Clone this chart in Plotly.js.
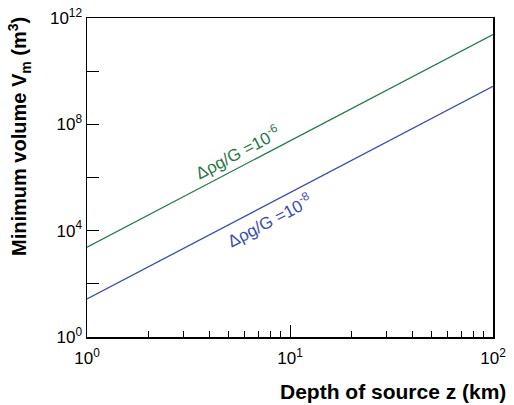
<!DOCTYPE html>
<html>
<head>
<meta charset="utf-8">
<script src="https://cdn.plot.ly/plotly-3.0.1.min.js"></script>
<style>html,body{margin:0;padding:0;background:#fff;}#chart{width:514px;height:405px;}</style>
</head>
<body>
<div id="chart"></div>
<script>
// Data
var depth = [1, 100];                  // km
var volumeHigh = [2400, 2.4e11];       // Δρg/G = 1e-6
var volumeLow = [27, 2.7e9];           // Δρg/G = 1e-8
var yTickVals = [1, 1e4, 1e8, 1e12];
var yTickText = ['10<sup>0</sup>', '10<sup>4</sup>', '10<sup>8</sup>', '10<sup>12</sup>'];
var yMinorVals = [1e2, 1e6, 1e10];
var xTickVals = [1, 10, 100];
var xTickText = ['10<sup>0</sup>', '10<sup>1</sup>', '10<sup>2</sup>'];
var xMinorVals = [2,3,4,5,6,7,8,9,20,30,40,50,60,70,80,90];

var green = '#1f7a45';
var blue = '#3a4cb0';
var font = 'Liberation Sans, Arial, sans-serif';

var traces = [
  {x: depth, y: volumeHigh, mode: 'lines', line: {color: green, width: 1.3}, hoverinfo: 'skip'},
  {x: depth, y: volumeLow, mode: 'lines', line: {color: blue, width: 1.3}, hoverinfo: 'skip'}
];

var layout = {
  width: 514, height: 405,
  margin: {l: 87, r: 21, t: 18, b: 68},
  paper_bgcolor: '#fff', plot_bgcolor: '#fff',
  showlegend: false,
  font: {family: font, size: 17, color: '#000'},
  xaxis: {
    type: 'log', range: [0, 2],
    tickmode: 'array', tickvals: xTickVals, ticktext: xTickText,
    ticks: 'inside', ticklen: 12, tickwidth: 1, tickcolor: '#000',
    showline: true, linecolor: '#000', linewidth: 1.5, mirror: true,
    showgrid: false, zeroline: false, ticklabelstandoff: 5,
    tickfont: {family: font, size: 17, color: '#000'},
    minor: {tickmode: 'array', tickvals: xMinorVals, ticks: 'inside', ticklen: 6, tickwidth: 1, tickcolor: '#000', showgrid: false}
  },
  yaxis: {
    type: 'log', range: [0, 12],
    tickmode: 'array', tickvals: yTickVals, ticktext: yTickText,
    ticks: 'inside', ticklen: 12, tickwidth: 1, tickcolor: '#000',
    showline: true, linecolor: '#000', linewidth: 1.5, mirror: true,
    showgrid: false, zeroline: false,
    tickfont: {family: font, size: 17, color: '#000'},
    minor: {tickmode: 'array', tickvals: yMinorVals, ticks: 'inside', ticklen: 12, tickwidth: 1, tickcolor: '#000', showgrid: false}
  },
  annotations: [
    {xref: 'paper', yref: 'paper', x: 1.038, y: -0.172, xanchor: 'right', yanchor: 'middle',
     text: '<b>Depth of source z (km)</b>', showarrow: false, font: {family: font, size: 21, color: '#000'}},
    {xref: 'paper', yref: 'paper', x: -0.165, y: 0.627, xanchor: 'center', yanchor: 'middle', textangle: -90,
     text: '<b>Minimum volume V<sub>m</sub> (m<sup>3</sup>)</b>', showarrow: false, font: {family: font, size: 20, color: '#000'}},
    {xref: 'x', yref: 'y', x: 0.739, y: 6.96, text: 'Δρg/G =10<sup>-6</sup>', showarrow: false, textangle: -27.7,
     font: {family: font, size: 17, color: green}},
    {xref: 'x', yref: 'y', x: 0.897, y: 4.40, text: 'Δρg/G =10<sup>-8</sup>', showarrow: false, textangle: -27.7,
     font: {family: font, size: 17, color: blue}}
  ]
};

Plotly.newPlot('chart', traces, layout, {displayModeBar: false, staticPlot: true});
</script>
</body>
</html>
